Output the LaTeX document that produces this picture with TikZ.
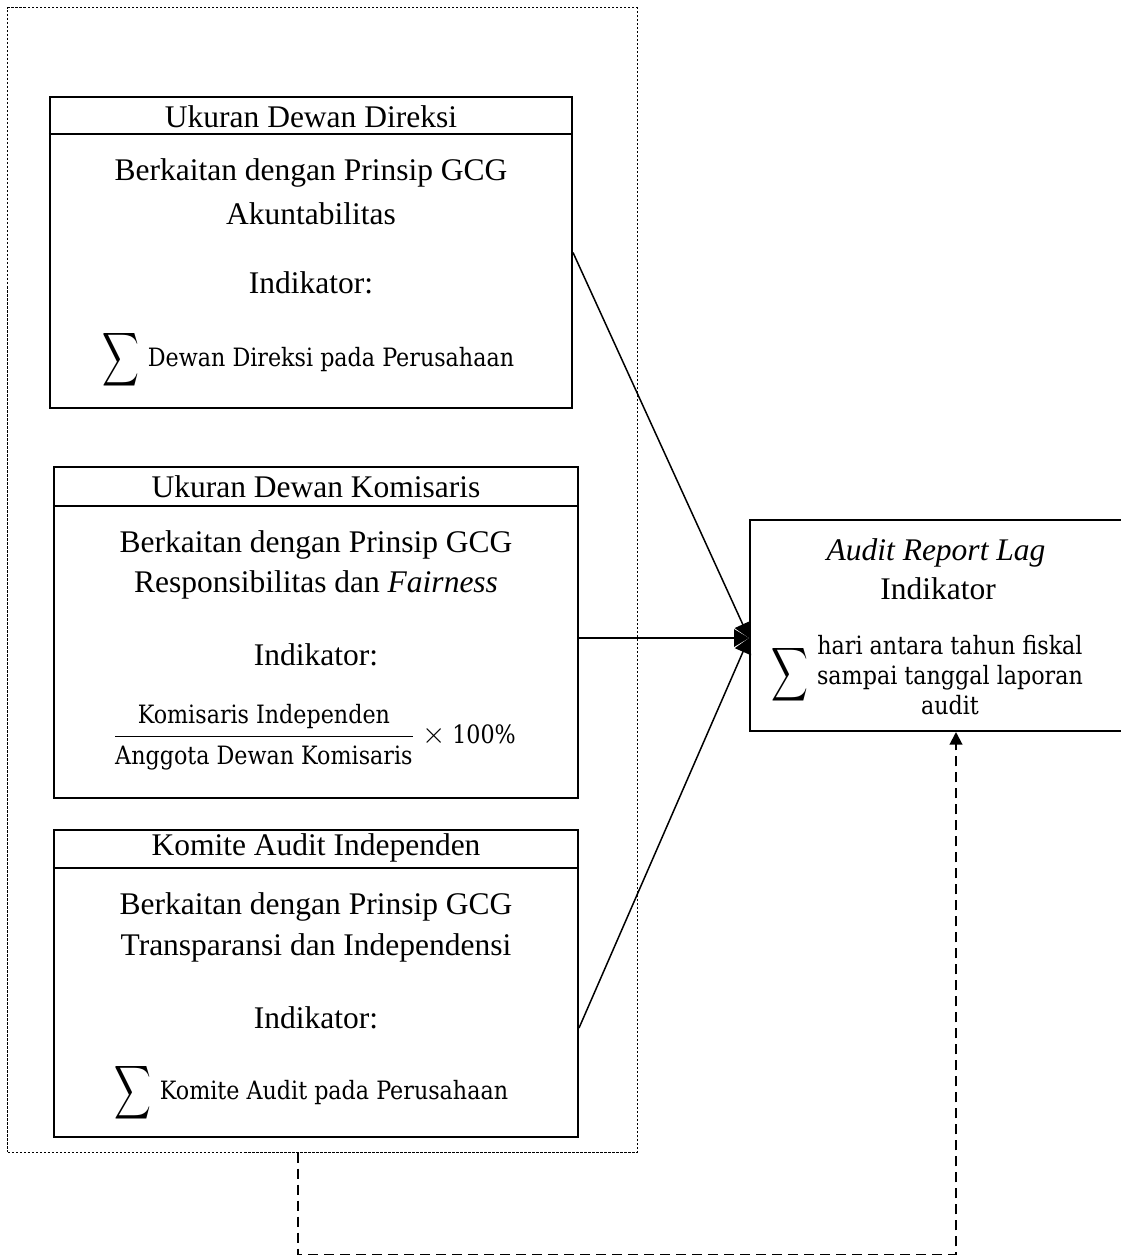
\documentclass[tikz,border=0pt]{standalone}
\usepackage{amsmath}
\usepackage{fontspec}
\setmainfont{Liberation Serif}
\newfontfamily\cambriaface[FakeStretch=0.88]{DejaVu Serif}
\usetikzlibrary{positioning,arrows.meta,calc}

\begin{document}
\begin{tikzpicture}[
  x=0.4pt, y=-0.4pt,
  box/.style={draw, line width=0.8pt, inner sep=0pt},
  group/.style={draw, line width=0.4pt, dash pattern=on 1pt off 0.6pt, inner sep=0pt},
  txt/.style={font=\fontsize{12.6}{15}\selectfont, inner sep=0pt},
  ind/.style={font=\fontsize{10.1}{12}\cambriaface, inner sep=0pt},
  sumsign/.style={font=\fontsize{12}{14}\selectfont, inner sep=0pt},
  link/.style={line width=0.6pt, -{Triangle[length=6pt,width=7pt]}},
  dashlink/.style={line width=0.8pt, dash pattern=on 4pt off 2.4pt, -{Triangle[length=5pt,width=5pt]}}
]
  \useasboundingbox (0,0) rectangle (1121,1255);

  % GCG group frame
  \node[group, minimum width=251.6pt, minimum height=457.6pt] (grp) at (322.5,580) {};

  % Ukuran Dewan Direksi
  \node[box, minimum width=208.8pt, minimum height=124.4pt] (dir) at (311,252.5) {};
  \draw[line width=0.8pt] (dir.west |- 0,134) -- (dir.east |- 0,134);
  \node[txt] (dirtitle) at (311,117) {Ukuran Dewan Direksi};
  \node[txt] (dirgcg) at (311,173) {Berkaitan dengan Prinsip GCG};
  \node[txt] (dirprin) at (311,214) {Akuntabilitas};
  \node[txt] (dirind) at (311,283) {Indikator:};
  \node[ind] (dirtxt) at (331,360) {Dewan Direksi pada Perusahaan};
  \node[sumsign, left=3pt of dirtxt] (dirsum) {\scalebox{0.85}[1.25]{$\displaystyle\sum$}};

  % Ukuran Dewan Komisaris
  \node[box, minimum width=209.6pt, minimum height=132.4pt] (kom) at (316,632.5) {};
  \draw[line width=0.8pt] (kom.west |- 0,506) -- (kom.east |- 0,506);
  \node[txt] (komtitle) at (316,487) {Ukuran Dewan Komisaris};
  \node[txt] (komgcg) at (316,545) {Berkaitan dengan Prinsip GCG};
  \node[txt] (komprin) at (316,585) {Responsibilitas dan \textit{Fairness}};
  \node[txt] (komind) at (316,655) {Indikator:};
  \node[txt] (komfrac) at (314,737)
    {$\displaystyle\frac{\text{\cambriaface\fontsize{10.1}{12}\selectfont Komisaris Independen}}
      {\text{\cambriaface\fontsize{10.1}{12}\selectfont Anggota Dewan Komisaris}}
      \times\text{\cambriaface\fontsize{10.1}{12}\selectfont 100\%}$};

  % Komite Audit Independen
  \node[box, minimum width=209.6pt, minimum height=122.8pt] (kai) at (316,983.5) {};
  \draw[line width=0.8pt] (kai.west |- 0,868) -- (kai.east |- 0,868);
  \node[txt] (kaititle) at (316,848) {Komite Audit Independen};
  \node[txt] (kaigcg) at (316,907) {Berkaitan dengan Prinsip GCG};
  \node[txt] (kaiprin) at (316,948) {Transparansi dan Independensi};
  \node[txt] (kaiind) at (316,1018) {Indikator:};
  \node[ind] (kaitxt) at (334,1093) {Komite Audit pada Perusahaan};
  \node[sumsign, left=3pt of kaitxt] (kaisum) {\scalebox{0.85}[1.25]{$\displaystyle\sum$}};

  % Audit Report Lag
  \node[box, minimum width=152pt, minimum height=84.4pt] (arl) at (940,625.5) {};
  \node[txt] (arltitle) at (936,553) {\textit{Audit Report Lag}};
  \node[txt] (arlind) at (938,589) {Indikator};
  \node[ind, align=center] (arltxt) at (950,675)
    {hari antara tahun fiskal\\sampai tanggal laporan\\audit};
  \node[sumsign, left=3pt of arltxt] (arlsum) {\scalebox{0.85}[1.25]{$\displaystyle\sum$}};

  % Links
  \coordinate (hit) at ($(arl.west)+(0,12.5)$);
  \draw[link] (dir.east) -- (hit);
  \draw[link] (kom.east |- hit) -- (hit);
  \draw[link] (kai.east |- 0,1028) -- (hit);

  % Moderating path
  \coordinate (lowL) at (298,1254.5);
  \coordinate (lowR) at (956,1254.5);
  \draw[dashlink] (grp.south -| lowL) -- (lowL) -- (lowR) -- (arl.south -| lowR);
\end{tikzpicture}
\end{document}
